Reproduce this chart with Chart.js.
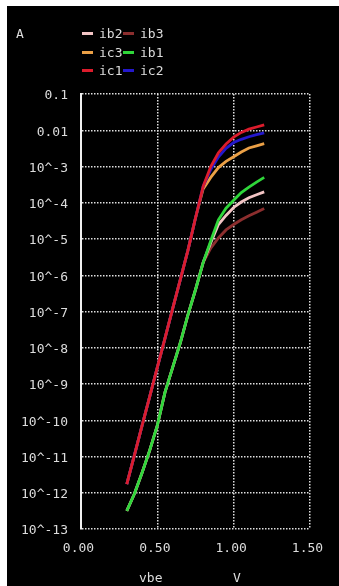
<!DOCTYPE html>
<html>
<head>
<meta charset="utf-8">
<script src="https://cdn.jsdelivr.net/npm/chart.js@4.4.1/dist/chart.umd.min.js"></script>
<style>
    body { margin: 0; background: #fff; width: 339px; height: 586px; overflow: hidden; }
    #frame { position: absolute; left: 7px; top: 6px; width: 332px; height: 580px; background: #000; }
    canvas { position: absolute; left: 0; top: 0; }
    .lbl { position: absolute; font: 13px "DejaVu Sans Mono", monospace; color: #dcdcdc; line-height: 13px; white-space: nowrap; }
    .key { position: absolute; width: 11px; height: 3px; }
</style>
</head>
<body>
<div id="frame">
    <canvas id="chart" width="332" height="580"></canvas>
</div>
<div id="overlay"></div>
<script>
// === DATA ===
const vbe = [0.30, 0.35, 0.40, 0.45, 0.50, 0.55, 0.60, 0.65, 0.70, 0.75,
             0.80, 0.85, 0.90, 0.95, 1.00, 1.05, 1.10, 1.15, 1.20];

// log10 of current (A)
const ic1Exp = [-11.76, -10.96, -10.15, -9.35, -8.54, -7.74, -6.93, -6.13, -5.32, -4.42,
                -3.55, -3.00, -2.62, -2.38, -2.19, -2.06, -1.97, -1.91, -1.85];
const ic2Exp = [-11.76, -10.96, -10.15, -9.35, -8.54, -7.74, -6.93, -6.13, -5.32, -4.42,
                -3.55, -3.08, -2.74, -2.50, -2.34, -2.25, -2.18, -2.12, -2.07];
const ic3Exp = [-11.76, -10.96, -10.15, -9.35, -8.54, -7.74, -6.93, -6.13, -5.32, -4.42,
                -3.62, -3.30, -3.03, -2.86, -2.73, -2.60, -2.49, -2.43, -2.37];
const ib1Exp = [-12.50, -12.03, -11.45, -10.83, -10.14, -9.23, -8.55, -7.87, -7.10, -6.40,
                -5.65, -5.05, -4.47, -4.15, -3.93, -3.72, -3.57, -3.43, -3.30];
const ib2Exp = [-12.50, -12.03, -11.45, -10.83, -10.14, -9.23, -8.55, -7.87, -7.10, -6.40,
                -5.65, -5.10, -4.60, -4.35, -4.13, -3.98, -3.86, -3.78, -3.70];
const ib3Exp = [-12.50, -12.03, -11.45, -10.83, -10.14, -9.23, -8.55, -7.87, -7.10, -6.40,
                -5.65, -5.25, -4.97, -4.75, -4.60, -4.47, -4.36, -4.26, -4.16];

const yTickValues = [1e-13, 1e-12, 1e-11, 1e-10, 1e-9, 1e-8, 1e-7, 1e-6, 1e-5, 1e-4, 1e-3, 0.01, 0.1];
const yTickLabels = ["10^-13", "10^-12", "10^-11", "10^-10", "10^-9", "10^-8", "10^-7",
                     "10^-6", "10^-5", "10^-4", "10^-3", "0.01", "0.1"];
const xTickValues = [0, 0.5, 1.0, 1.5];

// legend: [name, colour, column, row]
const legendItems = [
    ["ib2", "#f2c4c4", 0, 0], ["ib3", "#8c2e2e", 1, 0],
    ["ic3", "#eba046", 0, 1], ["ib1", "#2fd63a", 1, 1],
    ["ic1", "#dc1c2c", 0, 2], ["ic2", "#2418cc", 1, 2],
];

const COLORS = {
    ic1: "#dc1c2c", ic2: "#2418cc", ic3: "#eba046",
    ib1: "#2fd63a", ib2: "#f2c4c4", ib3: "#8c2e2e",
    text: "#dcdcdc", grid: "#e0e0e0",
};

// === CHART ===
const toPoints = (exps) => exps.map((e, i) => ({ x: vbe[i], y: Math.pow(10, e) }));

const series = [
    { label: "ic1", exps: ic1Exp, order: 0 },
    { label: "ic2", exps: ic2Exp, order: 1 },
    { label: "ic3", exps: ic3Exp, order: 2 },
    { label: "ib1", exps: ib1Exp, order: 0 },
    { label: "ib2", exps: ib2Exp, order: 1 },
    { label: "ib3", exps: ib3Exp, order: 2 },
];

const datasets = series.map((s) => ({
    label: s.label,
    data: toPoints(s.exps),
    borderColor: COLORS[s.label],
    borderWidth: 2.8,
    pointRadius: 0,
    tension: 0,
    order: s.order,
}));

// grid dots: in v4 the dash pattern lives on border.dash
const gridOpts = { color: COLORS.grid, lineWidth: 1.5, drawTicks: false };
const tickFont = { family: "DejaVu Sans Mono", size: 13 };

new Chart(document.getElementById("chart"), {
    type: "line",
    data: { datasets: datasets },
    options: {
        responsive: false,
        devicePixelRatio: 1,
        animation: false,
        layout: { padding: { left: 0, top: 88, right: 29, bottom: 0 } },
        plugins: { legend: { display: false }, tooltip: { enabled: false } },
        scales: {
            x: {
                type: "linear",
                min: 0,
                max: 1.5,
                afterBuildTicks: (scale) => { scale.ticks = xTickValues.map((v) => ({ value: v })); },
                afterFit: (scale) => { scale.height = 57; },
                grid: gridOpts,
                border: { display: false, dash: [1.5, 1.5] },
                ticks: {
                    color: COLORS.text,
                    font: tickFont,
                    padding: 12,
                    labelOffset: -2.5,
                    maxRotation: 0,
                    callback: (v) => Number(v).toFixed(2),
                },
            },
            y: {
                type: "logarithmic",
                min: 1e-13,
                max: 0.1,
                afterBuildTicks: (scale) => { scale.ticks = yTickValues.map((v) => ({ value: v })); },
                afterFit: (scale) => { scale.width = 74; },
                grid: gridOpts,
                border: { display: true, color: "#f0f0f0", width: 2, dash: [1.5, 1.5] },
                ticks: {
                    color: COLORS.text,
                    font: tickFont,
                    padding: 13,
                    labelOffset: 2,
                    callback: (v, i) => yTickLabels[i],
                },
            },
        },
    },
});

// === LABELS (legend, unit, axis names) ===
const overlay = document.getElementById("overlay");
const addText = (txt, x, y) => {
    const el = document.createElement("div");
    el.className = "lbl";
    el.textContent = txt;
    el.style.left = x + "px";
    el.style.top = (y - 6) + "px";
    overlay.appendChild(el);
};

addText("A", 16, 33);
legendItems.forEach(([name, color, col, row]) => {
    const x0 = 82 + col * 41;
    const y0 = 33 + row * 18.5;
    const key = document.createElement("div");
    key.className = "key";
    key.style.background = color;
    key.style.left = x0 + "px";
    key.style.top = (y0 - 1) + "px";
    overlay.appendChild(key);
    addText(name, x0 + 17, y0);
});
addText("vbe", 139, 577);
addText("V", 233, 577);
</script>
</body>
</html>
